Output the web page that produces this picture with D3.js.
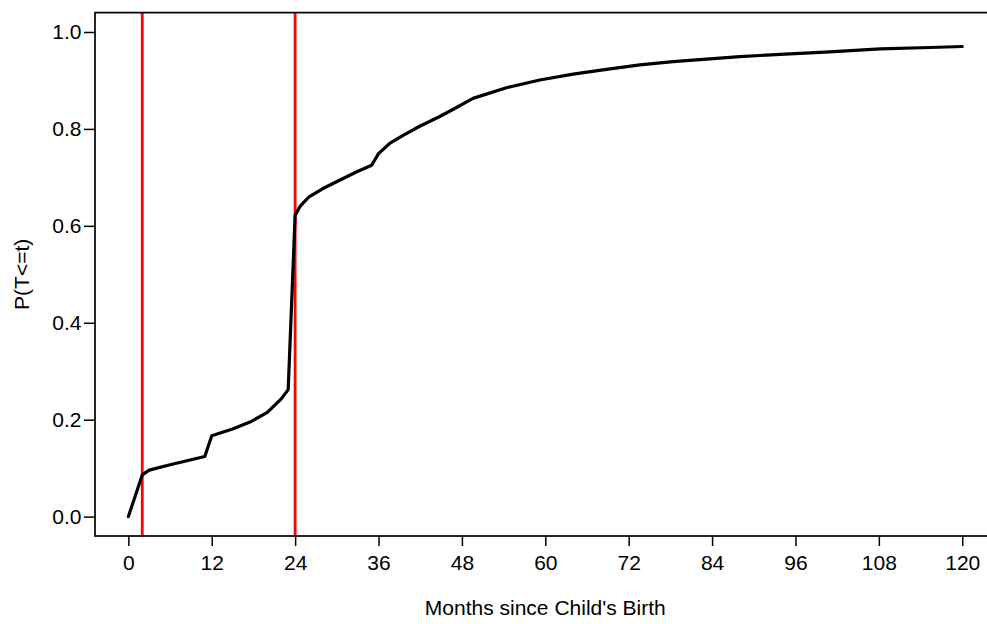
<!DOCTYPE html>
<meta charset="utf-8">
<style>

body {
  margin: 0;
  background: #fff;
}

svg {
  font: 21px "Liberation Sans", Arial, sans-serif;
  display: block;
}

</style>
<svg width="987" height="624"></svg>
<script src="https://cdn.jsdelivr.net/npm/d3@7"></script>
<script>

// cumulative probability
var months = [0, 2, 3, 6, 11, 12, 15, 17.5, 20, 22, 23, 24, 24.7, 26, 28, 30.4, 32.8, 35, 36, 37.6, 39.6, 42, 44.6, 46.7, 49.6, 54.4, 59.2, 64, 68.8, 73.6, 78.4, 83.2, 88, 93.8, 100.9, 108.2, 115.4, 120];
var prob = [0, 0.086, 0.096, 0.107, 0.124, 0.167, 0.181, 0.195, 0.215, 0.243, 0.262, 0.622, 0.640, 0.660, 0.677, 0.694, 0.711, 0.725, 0.749, 0.770, 0.787, 0.806, 0.824, 0.840, 0.863, 0.885, 0.901, 0.913, 0.923, 0.932, 0.939, 0.944, 0.949, 0.954, 0.959, 0.965, 0.968, 0.970];

var cutoffs = [2, 24];
var xTicks = [0, 12, 24, 36, 48, 60, 72, 84, 96, 108, 120];
var yTicks = [0, 0.2, 0.4, 0.6, 0.8, 1.0];

</script>
<script>

var svg = d3.select("svg");

var x = d3.scaleLinear()
    .domain([-4.8, 124.8])
    .range([95, 995.6]);

var y = d3.scaleLinear()
    .domain([-0.04, 1.04])
    .range([536, 12.6]);

var line = d3.line()
    .x(function(d) { return x(d[0]); })
    .y(function(d) { return y(d[1]); });

svg.append("g")
    .attr("transform", "translate(0,536)")
    .call(d3.axisBottom(x).tickValues(xTicks).tickSizeOuter(0).tickSize(10).tickPadding(9))
    .call(function(g) { g.select(".domain").remove(); })
    .call(function(g) {
      g.selectAll("line").attr("stroke", "#000").attr("stroke-width", 1.5);
      g.selectAll("text").attr("fill", "#000").style("font-size", "21px").style("font-family", "'Liberation Sans', Arial, sans-serif");
    });

svg.append("g")
    .attr("transform", "translate(95,0)")
    .call(d3.axisLeft(y).tickValues(yTicks).tickFormat(d3.format(".1f")).tickSizeOuter(0).tickSize(11).tickPadding(2.5))
    .call(function(g) { g.select(".domain").remove(); })
    .call(function(g) {
      g.selectAll("line").attr("stroke", "#000").attr("stroke-width", 1.5);
      g.selectAll("text").attr("fill", "#000").style("font-size", "21px").style("font-family", "'Liberation Sans', Arial, sans-serif");
    });

svg.selectAll(".cutoff")
  .data(cutoffs)
  .enter().append("line")
    .attr("class", "cutoff")
    .attr("x1", function(d) { return x(d); })
    .attr("x2", function(d) { return x(d); })
    .attr("y1", y(1.04))
    .attr("y2", y(-0.04))
    .attr("stroke", "#ff0000")
    .attr("stroke-width", 2.8);

svg.append("path")
    .datum(d3.zip(months, prob))
    .attr("fill", "none")
    .attr("stroke", "#000")
    .attr("stroke-width", 3.2)
    .attr("stroke-linejoin", "round")
    .attr("stroke-linecap", "round")
    .attr("d", line);

svg.append("rect")
    .attr("x", x(-4.8))
    .attr("y", y(1.04))
    .attr("width", x(124.8) - x(-4.8))
    .attr("height", y(-0.04) - y(1.04))
    .attr("fill", "none")
    .attr("stroke", "#000")
    .attr("stroke-width", 1.7);

svg.append("text")
    .attr("x", (95 + 995.6) / 2)
    .attr("y", 615)
    .attr("text-anchor", "middle")
    .text("Months since Child's Birth");

svg.append("text")
    .attr("transform", "translate(29," + (12.6 + 536) / 2 + ") rotate(-90)")
    .attr("text-anchor", "middle")
    .text("P(T<=t)");

</script>
